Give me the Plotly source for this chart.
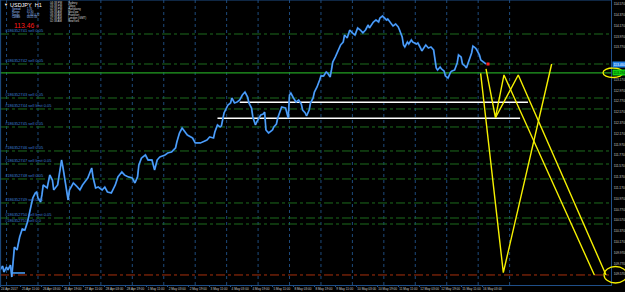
import plotly.graph_objects as go

# ---------------- data ----------------
bars = [0, 2, 3, 5, 6, 8, 9, 10, 11, 13, 15, 17, 19, 21, 23, 25, 27, 28, 29, 31, 32, 33, 36, 38, 40, 41,
        44, 46, 47, 48, 50, 51, 52, 53, 56, 59, 61, 63, 67, 70, 71, 73, 75, 78, 80, 82, 85, 88, 90, 93,
        95, 98, 101, 103, 105, 106, 108, 111, 113, 116, 118, 120, 122, 126, 128, 131, 134, 135, 137, 139,
        143, 147, 149, 153, 155, 158, 160, 163, 164, 166, 168, 169, 171, 173, 174, 176, 177, 179, 181, 183,
        185, 187, 189, 190, 192, 193, 195, 196, 198, 199, 201, 202, 203, 205, 206, 208, 209, 211, 212, 214,
        215, 218, 219, 220, 221, 222, 224, 226, 228, 230, 231, 233, 234, 236, 237, 239, 240, 242, 244, 245,
        247, 249, 250, 252, 253, 254, 256, 258, 260, 262, 263, 265, 267, 269, 271, 273, 275, 277, 279, 281,
        282, 285, 287, 289, 290, 292, 295, 296, 298, 300, 302, 304, 305, 307, 308, 309, 311, 312, 314, 315,
        318, 319, 321, 322, 324, 325, 327, 329, 331, 332, 333, 334, 336, 337, 339, 340, 342, 344, 345, 347,
        349, 350, 352, 353, 355, 356, 358, 360, 361, 363, 364, 366, 367, 369, 371]
closes = [109.649, 109.723, 109.612, 109.704, 109.649, 109.741, 109.519, 109.797, 110.074, 110.019, 110.259,
          110.408, 110.389, 110.537, 110.796, 110.981, 111.074, 111.092, 110.981, 110.907, 111.037, 111.222,
          111.166, 111.407, 111.314, 111.129, 111.222, 111.499, 111.684, 111.555, 111.259, 111.092, 110.944,
          111.129, 111.259, 111.185, 111.129, 111.222, 111.351, 111.536, 111.370, 111.166, 111.185, 111.129,
          111.185, 111.092, 111.074, 111.222, 111.370, 111.462, 111.407, 111.370, 111.351, 111.259, 111.370,
          111.592, 111.721, 111.777, 111.684, 111.684, 111.499, 111.684, 111.740, 111.777, 111.814, 111.832,
          111.906, 112.017, 112.184, 112.276, 112.147, 112.091, 111.999, 111.999, 112.017, 112.054, 112.110,
          112.091, 112.202, 112.332, 112.295, 112.313, 112.554, 112.646, 112.702, 112.739, 112.831, 112.739,
          112.757, 112.794, 112.887, 112.942, 112.850, 112.739, 112.646, 112.480, 112.332, 112.387, 112.461,
          112.517, 112.535, 112.572, 112.239, 112.184, 112.202, 112.239, 112.295, 112.350, 112.461, 112.609,
          112.665, 112.646, 112.572, 112.461, 112.887, 112.924, 112.831, 112.757, 112.794, 112.720, 112.609,
          112.554, 112.498, 112.609, 112.739, 112.831, 112.942, 113.035, 113.164, 113.238, 113.238, 113.312,
          113.294, 113.220, 113.349, 113.497, 113.590, 113.719, 113.812, 113.867, 113.997, 113.941, 114.089,
          114.034, 113.997, 114.126, 114.089, 114.034, 114.089, 114.182, 114.126, 114.237, 114.274, 114.237,
          114.311, 114.348, 114.274, 114.293, 114.219, 114.163, 114.200, 114.145, 114.089, 113.960, 113.812,
          113.775, 113.867, 113.830, 113.904, 113.867, 113.830, 113.849, 113.756, 113.701, 113.775, 113.812,
          113.756, 113.775, 113.719, 113.497, 113.386, 113.349, 113.405, 113.368, 113.331, 113.238, 113.201,
          113.312, 113.331, 113.349, 113.479, 113.627, 113.590, 113.460, 113.423, 113.386, 113.534, 113.664,
          113.793, 113.756, 113.719, 113.627, 113.534, 113.497, 113.460]
last_bar = 372.5
last_price = 113.460

time_tick_bars = [0, 16, 32, 48, 64, 80, 96, 112, 128, 144, 160, 176, 192, 208, 224, 240, 256, 272, 288,
                  304, 320, 336, 352, 368]
time_tick_text = ["24 Apr 2017", "25 Apr 11:00", "26 Apr 03:00", "26 Apr 19:00", "27 Apr 11:00",
                  "28 Apr 03:00", "28 Apr 19:00", "1 May 11:00", "2 May 03:00", "2 May 19:00",
                  "3 May 11:00", "4 May 03:00", "4 May 19:00", "5 May 11:00", "8 May 03:00",
                  "8 May 19:00", "9 May 11:00", "10 May 03:00", "10 May 19:00", "11 May 11:00",
                  "12 May 03:00", "12 May 19:00", "15 May 11:00", "16 May 03:00"]
separator_bars = [5, 29, 53, 77, 101, 125, 149, 173, 197, 221, 245, 269, 293, 317, 341, 365, 389]

price_ticks = [114.57, 114.37, 114.17, 113.97, 113.77, 113.17, 112.97, 112.77, 112.57,
               112.37, 112.17, 111.97, 111.77, 111.57, 111.37, 111.17, 110.97, 110.77, 110.57, 110.37,
               110.17, 109.97, 109.77, 109.57, 109.37]
price_tick_text = ["114.570", "114.370", "114.170", "113.970", "113.770", "113.170", "112.970",
                   "112.770", "112.570", "112.370", "112.170", "111.970", "111.770", "111.570", "111.370",
                   "111.170", "110.970", "110.770", "110.570", "110.370", "110.170", "109.970", "109.770",
                   "109.570", "109.370"]

order_levels = [114.015, 113.460, 112.831, 112.628, 112.295, 111.851, 111.610, 111.333, 110.889,
                110.611, 110.500]
order_labels = ["#186352741 sell 0.05", "#186352742 sell 0.05", "#186352743 sell 0.05",
                "#186352744 sell limit 0.05", "#186352745 sell 0.05", "#186352746 sell 0.05",
                "#186352747 sell limit 0.05", "#186352748 sell 0.05", "#186352749 sell 0.05",
                "#186352750 sell limit 0.05", "#186352751 sell 0.0"]
main_level = 113.294
red_level = 109.557

white_upper_x = [183, 403]
white_upper_y = [112.751, 112.751]
white_lower_x = [166, 397]
white_lower_y = [112.455, 112.455]
blue_seg_x = [8.4, 19.1]
blue_seg_y = [109.594, 109.594]

zig1_x = [371.0, 378.2, 384.7, 453.7]
zig1_y = [113.368, 112.466, 113.257, 109.557]
zig2_x = [378.2, 395.6, 462.6]
zig2_y = [112.466, 113.257, 109.557]
zig3_x = [366.9, 384.2, 421.1]
zig3_y = [113.288, 109.599, 113.460]

info_keys = ["Spread", "Range", "Swaps", "Candle"]
info_vals = ["1.70", "61.90", "-0.46/-0.72", "00:21:33"]
clock_times = ["04:38 PM", "03:38 PM", "02:38 PM", "09:38 AM", "08:38 AM", "07:38 AM", "02:38 AM"]
clock_cities = ["Sydney", "Tokyo", "Hongkong", "Moscow", "Frankfurt", "London (GMT)", "NewYork"]

# ---------------- layout geometry ----------------
W, H = 625, 292
PR, PB = 611, 285  # plot right / bottom in px
X_RANGE = [0, 466.4]
Y_RANGE = [109.3715, 114.644]
FONT = "Liberation Sans"
AXIS_C = "#1f4f88"


def pxx(x):
    return x / PR


def pyy(y):
    return 1 - y / PB


fig = go.Figure()

shapes = []
for b in separator_bars:
    shapes.append(dict(type="line", xref="x", yref="paper", x0=b, x1=b, y0=0, y1=1,
                       line=dict(color="#1d4a7c", width=1, dash="dot"), layer="below"))
for lv in order_levels:
    shapes.append(dict(type="line", xref="paper", yref="y", x0=0, x1=1, y0=lv, y1=lv,
                       line=dict(color="#1d6a1d", width=1, dash="dashdot"), layer="below"))
shapes.append(dict(type="line", xref="paper", yref="y", x0=0, x1=1, y0=main_level, y1=main_level,
                   line=dict(color="#22a022", width=1.2), layer="below"))
shapes.append(dict(type="line", xref="paper", yref="y", x0=0, x1=1, y0=red_level, y1=red_level,
                   line=dict(color="#a8300c", width=1, dash="dashdot"), layer="below"))
shapes.append(dict(type="line", xref="paper", yref="paper", x0=0, x1=1, y0=1, y1=1,
                   line=dict(color=AXIS_C, width=1)))
shapes.append(dict(type="line", xref="paper", yref="paper", x0=0.001, x1=0.001, y0=0, y1=1,
                   line=dict(color=AXIS_C, width=1)))

fig.add_trace(go.Scatter(x=white_upper_x, y=white_upper_y, mode="lines",
                         line=dict(color="#ffffff", width=1.6), hoverinfo="skip"))
fig.add_trace(go.Scatter(x=white_lower_x, y=white_lower_y, mode="lines",
                         line=dict(color="#ffffff", width=1.6), hoverinfo="skip"))

# price path
fig.add_trace(go.Scatter(x=bars, y=closes, mode="lines",
                         line=dict(color="#2a7fe4", width=1.8), hoverinfo="skip"))
fig.add_trace(go.Scatter(x=bars, y=closes, mode="lines",
                         line=dict(color="#7cbcff", width=0.6), hoverinfo="skip"))
fig.add_trace(go.Scatter(x=blue_seg_x, y=blue_seg_y, mode="lines",
                         line=dict(color="#4aa4ff", width=1.5), hoverinfo="skip"))
fig.add_trace(go.Scatter(x=[last_bar], y=[last_price], mode="markers",
                         marker=dict(color="#ff2020", size=3, symbol="square"), hoverinfo="skip"))

for zx, zy in [(zig1_x, zig1_y), (zig2_x, zig2_y), (zig3_x, zig3_y)]:
    fig.add_trace(go.Scatter(x=zx, y=zy, mode="lines",
                             line=dict(color="#f5f000", width=1.4), hoverinfo="skip"))

shapes.append(dict(type="circle", xref="paper", yref="paper",
                   x0=pxx(603), x1=pxx(623), y0=pyy(77.5), y1=pyy(68),
                   line=dict(color="#f5f000", width=1.3)))
shapes.append(dict(type="circle", xref="paper", yref="paper",
                   x0=pxx(604), x1=pxx(627), y0=pyy(283), y1=pyy(266.5),
                   line=dict(color="#f5f000", width=1.3)))

annotations = []
for lv, txt in zip(order_levels, order_labels):
    annotations.append(dict(xref="paper", yref="y", x=pxx(3), y=lv, text=txt, showarrow=False,
                            xanchor="left", yanchor="bottom", yshift=-1,
                            font=dict(family=FONT, size=4, color="#3a7fd8")))
annotations.append(dict(xref="paper", yref="y", x=1.0, y=last_price, text="113.460", showarrow=False,
                        xanchor="left", yanchor="middle", xshift=1, bgcolor="#1f7fe6", borderpad=0.5,
                        font=dict(family=FONT, size=3.3, color="#ffffff")))
annotations.append(dict(xref="paper", yref="y", x=1.0, y=main_level, text="113.294", showarrow=False,
                        xanchor="left", yanchor="middle", xshift=1, bgcolor="#10d010", borderpad=0.5,
                        font=dict(family=FONT, size=3.3, color="#003000")))

annotations.append(dict(xref="paper", yref="paper", x=pxx(1.5), y=pyy(4.5), text="▼", showarrow=False,
                        xanchor="left", yanchor="middle", font=dict(family=FONT, size=4, color="#ffffff")))
annotations.append(dict(xref="paper", yref="paper", x=pxx(8), y=pyy(4.5), text="USDJPY  H1",
                        showarrow=False, xanchor="left", yanchor="middle",
                        font=dict(family=FONT, size=5.5, color="#ffffff")))
for i, (k, v) in enumerate(zip(info_keys, info_vals)):
    yy = 9.5 + 2.6 * i
    annotations.append(dict(xref="paper", yref="paper", x=pxx(10), y=pyy(yy), text=k, showarrow=False,
                            xanchor="left", yanchor="middle",
                            font=dict(family=FONT, size=2.6, color="#9fc4ff")))
    annotations.append(dict(xref="paper", yref="paper", x=pxx(25), y=pyy(yy), text=v, showarrow=False,
                            xanchor="left", yanchor="middle",
                            font=dict(family=FONT, size=2.6, color="#9fc4ff")))
annotations.append(dict(xref="paper", yref="paper", x=pxx(12), y=pyy(25.5), text="113.46", showarrow=False,
                        xanchor="left", yanchor="middle",
                        font=dict(family=FONT, size=6.8, color="#ff1a1a")))
annotations.append(dict(xref="paper", yref="paper", x=pxx(33.5), y=pyy(26), text="9", showarrow=False,
                        xanchor="left", yanchor="middle",
                        font=dict(family=FONT, size=4.2, color="#ff1a1a")))
for i, (t, c) in enumerate(zip(clock_times, clock_cities)):
    yy = 3.3 + 3.0 * i
    annotations.append(dict(xref="paper", yref="paper", x=pxx(48), y=pyy(yy), text=t, showarrow=False,
                            xanchor="left", yanchor="middle",
                            font=dict(family=FONT, size=2.8, color="#d8d8d8")))
    annotations.append(dict(xref="paper", yref="paper", x=pxx(66), y=pyy(yy), text=c, showarrow=False,
                            xanchor="left", yanchor="middle",
                            font=dict(family=FONT, size=2.8, color="#d8d8d8")))

fig.update_layout(
    width=W, height=H,
    margin=dict(l=0, r=W - PR, t=0, b=H - PB, pad=0),
    paper_bgcolor="#000000", plot_bgcolor="#000000",
    showlegend=False,
    shapes=shapes, annotations=annotations,
    xaxis=dict(range=X_RANGE, showgrid=False, zeroline=False, showline=True, linecolor=AXIS_C,
               linewidth=1, tickvals=time_tick_bars, ticktext=time_tick_text, tickangle=0,
               ticklabelposition="outside right", ticks="outside", ticklen=1, tickcolor=AXIS_C,
               tickfont=dict(family=FONT, size=3.1, color="#c8c8c8"), automargin=False, fixedrange=True),
    yaxis=dict(range=Y_RANGE, side="right", showgrid=False, zeroline=False, showline=True,
               linecolor=AXIS_C, linewidth=1, tickvals=price_ticks, ticktext=price_tick_text,
               ticks="", ticklabelstandoff=1,
               tickfont=dict(family=FONT, size=3.2, color="#c8c8c8"), automargin=False, fixedrange=True),
)

fig.write_html("out.html")
